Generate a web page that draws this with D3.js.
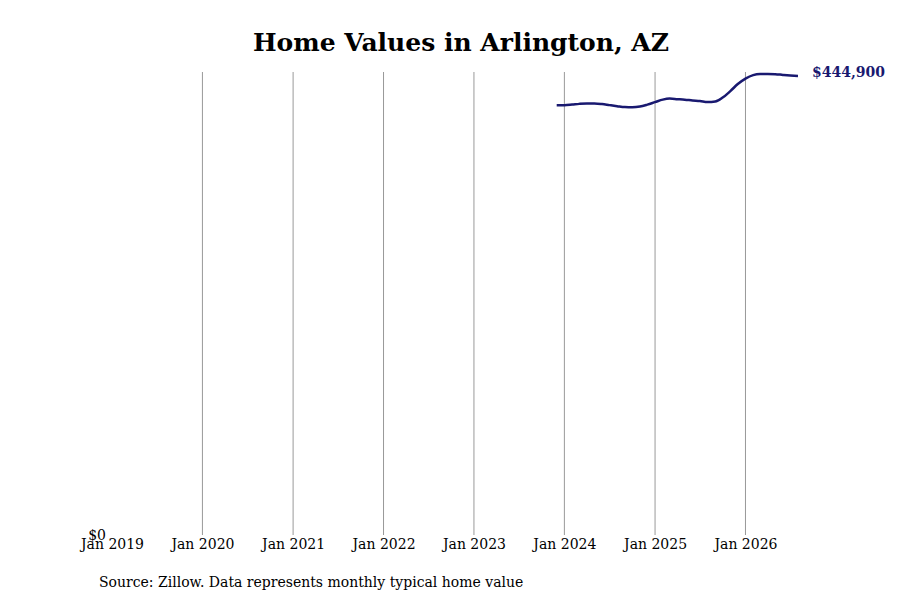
<!DOCTYPE html>
<html lang="en">
<head>
<meta charset="utf-8">
<title>Home Values in Arlington, AZ</title>
<script src="https://cdn.jsdelivr.net/npm/d3@7"></script>
<style>
  body { margin: 0; background: #fff; }
  text { font-family: "DejaVu Serif", serif; }
</style>
</head>
<body>
<script>
// monthly typical home value, Dec 2023 .. Aug 2026
var months = ["2023-12","2024-01","2024-02","2024-03","2024-04","2024-05","2024-06","2024-07",
              "2024-08","2024-09","2024-10","2024-11","2024-12","2025-01","2025-02","2025-03",
              "2025-04","2025-05","2025-06","2025-07","2025-08","2025-09","2025-10","2025-11",
              "2025-12","2026-01","2026-02","2026-03","2026-04","2026-05","2026-06","2026-07","2026-08"];
var values = [416500,416600,417200,417900,418300,418300,417700,416700,
              415700,414800,414600,415300,417200,419600,422000,423000,
              422500,422000,421200,420600,419600,420100,424000,430300,
              437100,442400,445800,446800,446800,446700,446000,445400,444900];
var yearTicks = ["2019","2020","2021","2022","2023","2024","2025","2026"];
var yMax = 448800;

var width = 900, height = 600;
var margin = {top: 72, left: 112, bottom: 65};
var parse = d3.timeParse("%Y-%m");

var data = months.map(function (m, i) {
    return {date: parse(m), value: values[i]};
});

var svg = d3.select("body").append("svg")
    .attr("width", width)
    .attr("height", height);

var x = d3.scaleTime()
    .domain([parse("2019-01"), parse("2026-08")])
    .range([margin.left, 798]);

var y = d3.scaleLinear()
    .domain([0, yMax])
    .range([height - margin.bottom, margin.top]);

var tickDates = yearTicks.map(function (t) { return parse(t + "-01"); });

// vertical grid lines (none at the first year)
svg.append("g")
    .selectAll("line")
    .data(tickDates.slice(1))
    .enter()
    .append("line")
    .attr("x1", function (d) { return x(d); })
    .attr("x2", function (d) { return x(d); })
    .attr("y1", y(yMax))
    .attr("y2", y(0))
    .attr("stroke", "#999")
    .attr("stroke-width", 1);

// x axis labels
var xAxis = svg.append("g")
    .attr("transform", "translate(0," + y(0) + ")")
    .call(d3.axisBottom(x)
        .tickValues(tickDates)
        .tickFormat(d3.timeFormat("Jan %Y"))
        .tickSize(0)
        .tickPadding(4));
xAxis.select(".domain").remove();
xAxis.selectAll("text")
    .style("font-family", "DejaVu Serif, serif")
    .style("font-size", "14px")
    .attr("fill", "#000");

// y axis: only $0
var yAxis = svg.append("g")
    .attr("transform", "translate(" + (margin.left - 6) + ",0)")
    .call(d3.axisLeft(y).tickValues([0]).tickFormat(d3.format("$,")).tickSize(0).tickPadding(0));
yAxis.select(".domain").remove();
yAxis.selectAll("text")
    .style("font-family", "DejaVu Serif, serif")
    .style("font-size", "14px")
    .attr("fill", "#000");

// line
var line = d3.line()
    .x(function (d) { return x(d.date); })
    .y(function (d) { return y(d.value); })
    .curve(d3.curveMonotoneX);

svg.append("path")
    .datum(data)
    .attr("fill", "none")
    .attr("stroke", "#191970")
    .attr("stroke-width", 2.5)
    .attr("d", line);

// last value label
var last = data[data.length - 1];
svg.append("text")
    .attr("x", x(last.date) + 14)
    .attr("y", y(last.value) - 4)
    .attr("dy", "0.35em")
    .attr("fill", "#191970")
    .style("font-size", "14px")
    .style("font-weight", "bold")
    .text(d3.format("$,")(last.value));

// title
svg.append("text")
    .attr("x", 461)
    .attr("y", 51)
    .attr("text-anchor", "middle")
    .style("font-size", "25px")
    .style("font-weight", "bold")
    .text("Home Values in Arlington, AZ");

// source
svg.append("text")
    .attr("x", 99)
    .attr("y", 587)
    .style("font-size", "14px")
    .text("Source: Zillow. Data represents monthly typical home value");
</script>
</body>
</html>
